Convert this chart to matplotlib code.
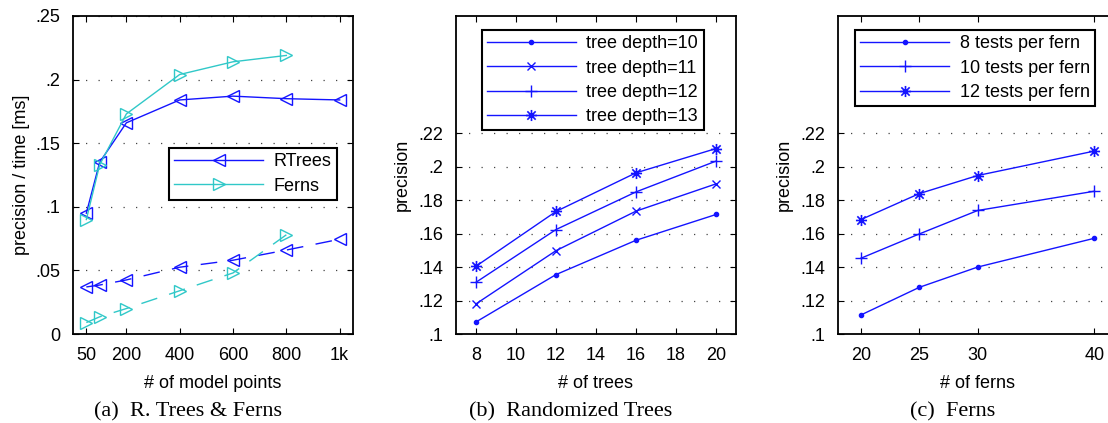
import numpy as np
import matplotlib
matplotlib.use('Agg')
import matplotlib.pyplot as plt
from matplotlib.path import Path

plt.rcParams['font.family'] = ['Liberation Sans', 'DejaVu Sans']
plt.rcParams['font.size'] = 13

# (a) precision / time vs number of model points
pts = [50, 100, 200, 400, 600, 800, 1000]
rtrees_solid = [0.095, 0.135, 0.166, 0.184, 0.187, 0.185, 0.184]
rtrees_dash = [0.037, 0.0385, 0.0425, 0.0525, 0.058, 0.066, 0.0745]
pts_ferns = [50, 100, 200, 400, 600, 800]
ferns_solid = [0.090, 0.133, 0.173, 0.204, 0.214, 0.219]
ferns_dash = [0.009, 0.0135, 0.020, 0.034, 0.048, 0.078]
xticks_a = [50, 200, 400, 600, 800, 1000]
xticklabels_a = ['50', '200', '400', '600', '800', '1k']

# (b) randomized trees
n_trees = [8, 12, 16, 20]
depth10 = [0.1072, 0.1355, 0.156, 0.1714]
depth11 = [0.118, 0.1498, 0.1734, 0.1897]
depth12 = [0.1309, 0.1624, 0.1849, 0.2033]
depth13 = [0.1405, 0.1732, 0.1963, 0.2108]

# (c) ferns
n_ferns = [20, 25, 30, 40]
tests8 = [0.1114, 0.1279, 0.140, 0.1572]
tests10 = [0.1453, 0.1598, 0.1738, 0.1853]
tests12 = [0.1684, 0.1839, 0.1947, 0.2093]

blue = '#1414ff'
cyan = '#30c8c8'

# matlab style asterisk (+ and x together)
s = 0.75
star = Path([(-1, 0), (1, 0), (0, -1), (0, 1), (-s, -s), (s, s), (-s, s), (s, -s)],
            [Path.MOVETO, Path.LINETO] * 4)

fig = plt.figure(figsize=(11.08, 4.23), dpi=100)
W, H = 1108, 423


def make_ax(left):
    return fig.add_axes([left / W, (H - 334) / H, 280 / W, 318 / H])


def style(ax, yticks, yticklabels):
    ax.set_yticks(yticks)
    ax.set_yticklabels(yticklabels)
    for yv in yticks[1:]:
        ax.axhline(yv, color='#444444', lw=0.9, ls=(0, (1, 9)), zorder=0)
    ax.tick_params(direction='in', top=True, right=True, length=4, width=0.8, pad=9)
    for sp in ax.spines.values():
        sp.set_linewidth(1.3)


leg_kw = dict(frameon=True, fancybox=False, edgecolor='black', framealpha=1,
              handlelength=4.9, handletextpad=0.6, labelspacing=0.4,
              borderpad=0.3, borderaxespad=0, fontsize=13)

# ---- (a)
ax = make_ax(73)
dash = (0, (12, 9))
l1, = ax.plot(pts, rtrees_solid, color=blue, lw=1, marker='<', ms=8.5, mfc='none', mew=1)
l2, = ax.plot(pts_ferns, ferns_solid, color=cyan, lw=1, marker='>', ms=8.5, mfc='none', mew=1)
ax.plot(pts, rtrees_dash, color=blue, lw=1, ls=dash, marker='<', ms=8.5, mfc='none', mew=1)
ax.plot(pts_ferns, ferns_dash, color=cyan, lw=1, ls=dash, marker='>', ms=8.5, mfc='none', mew=1)
ax.set_xlim(0, 1050)
ax.set_ylim(0, 0.25)
ax.set_xticks(xticks_a)
ax.set_xticklabels(xticklabels_a)
style(ax, [0, 0.05, 0.1, 0.15, 0.2, 0.25], ['0', '.05', '.1', '.15', '.2', '.25'])
ax.set_xlabel('# of model points', labelpad=8)
ax.set_ylabel('precision / time [ms]')
ax.yaxis.set_label_coords(-0.155, 0.5)
leg = ax.legend([l1, l2], ['RTrees', 'Ferns'], loc='upper left',
                bbox_to_anchor=(0.343, 0.585), **leg_kw)
leg.get_frame().set_linewidth(1.5)

# ---- (b)
ax = make_ax(456)
ax.plot(n_trees, depth10, color=blue, lw=1, marker='.', ms=6, label='tree depth=10')
ax.plot(n_trees, depth11, color=blue, lw=1, marker='x', ms=6, mew=1, label='tree depth=11')
ax.plot(n_trees, depth12, color=blue, lw=1, marker='+', ms=8, mew=1, label='tree depth=12')
ax.plot(n_trees, depth13, color=blue, lw=1, marker=star, ms=8, mew=1.2, label='tree depth=13')
ax.set_xlim(7, 21)
ax.set_ylim(0.1, 0.29)
ax.set_xticks([8, 10, 12, 14, 16, 18, 20])
prec_ticks = [0.1, 0.12, 0.14, 0.16, 0.18, 0.2, 0.22]
prec_labels = ['.1', '.12', '.14', '.16', '.18', '.2', '.22']
style(ax, prec_ticks, prec_labels)
ax.set_xlabel('# of trees', labelpad=8)
ax.set_ylabel('precision')
ax.yaxis.set_label_coords(-0.16, 0.5)
leg = ax.legend(loc='upper left', bbox_to_anchor=(0.092, 0.956), **leg_kw)
leg.get_frame().set_linewidth(1.5)

# ---- (c)
ax = make_ax(837.7)
ax.plot(n_ferns, tests8, color=blue, lw=1, marker='.', ms=6, label='8 tests per fern')
ax.plot(n_ferns, tests10, color=blue, lw=1, marker='+', ms=8, mew=1, label='10 tests per fern')
ax.plot(n_ferns, tests12, color=blue, lw=1, marker=star, ms=8, mew=1.2, label='12 tests per fern')
ax.set_xlim(18, 42)
ax.set_ylim(0.1, 0.29)
ax.set_xticks([20, 25, 30, 40])
style(ax, prec_ticks, prec_labels)
ax.set_xlabel('# of ferns', labelpad=8)
ax.set_ylabel('precision')
ax.yaxis.set_label_coords(-0.16, 0.5)
leg = ax.legend(loc='upper left', bbox_to_anchor=(0.062, 0.956), **leg_kw)
leg.get_frame().set_linewidth(1.5)

# captions
cap_kw = dict(ha='center', va='center', fontsize=16, family=['Liberation Serif', 'DejaVu Serif'])
fig.text(188.5 / W, 1 - 412 / H, '(a)  R. Trees & Ferns', **cap_kw)
fig.text(571 / W, 1 - 412 / H, '(b)  Randomized Trees', **cap_kw)
fig.text(953 / W, 1 - 412 / H, '(c)  Ferns', **cap_kw)

fig.savefig('out.png', dpi=100)
